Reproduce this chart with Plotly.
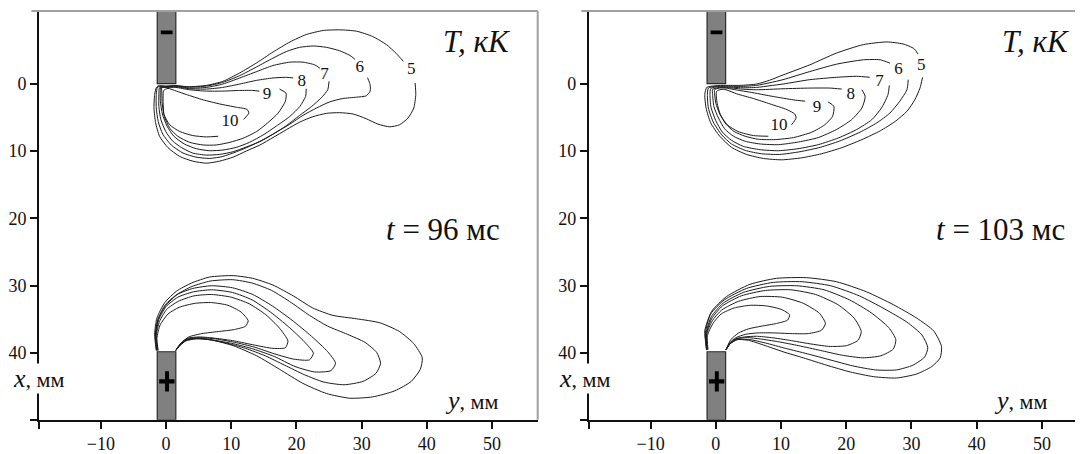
import plotly.graph_objects as go

# ---------------- axes / ticks ----------------
Y_RANGE_LEFT = [-19.5, 57.0]      # horizontal axis (y, mm) of the left panel
Y_RANGE_RIGHT = [-19.5, 56.3]     # horizontal axis (y, mm) of the right panel
X_RANGE = [49.9, -10.8]           # vertical axis (x, mm), reversed
y_ticks = [-10, 0, 10, 20, 30, 40, 50]
x_ticks = [0, 10, 20, 30, 40]
levels = [5, 6, 7, 8, 9, 10]
time_labels = ["96", "103"]

# electrodes (mm)
electrode_y = [-1.35, 1.5]
cathode_x = [-10.8, 0.0]
anode_x = [39.8, 49.9]

# ---------------- contour lines (y, x) in mm ----------------
# t = 96 ms, cathode side
top96_T5 = [(38.2,-0.1),(38.3,1.6),(38.0,3.6),(37.1,5.1),(35.8,6.1),(34.3,6.4),(32.5,6.0),(30.7,5.2),(28.7,4.5),(26.6,4.3),(24.6,4.4),(22.5,4.9),(20.5,5.7),(18.5,6.8),(16.4,8.0),(14.4,9.1),(12.3,10.0),(10.3,10.9),(8.2,11.5),(6.2,11.8),(4.1,11.5),(2.1,10.8),(0.3,9.5),(-1.0,7.8),(-1.6,5.8),(-1.85,3.6),(-1.75,1.6),(-1.5,0.6),(-1.2,0.3),(0,0.35),(1.5,0.3),(3.6,0.45),(6.2,0.25),(8.7,-0.35),(11.3,-1.6),(13.9,-3.1),(16.4,-4.7),(19.0,-6.2),(21.5,-7.3),(24.1,-7.9),(26.6,-8.0),(29.2,-7.8),(31.7,-7.0),(33.8,-5.8),(35.3,-4.5),(36.4,-3.3)]
top96_T6 = [(30.9,-0.9),(31.3,0.15),(31.3,1.1),(30.7,1.8),(29.2,2.0),(27.1,2.2),(25.1,2.7),(23.1,3.6),(21.0,4.7),(19.0,6.0),(16.9,7.2),(14.9,8.3),(12.8,9.3),(10.8,10.1),(8.7,10.8),(6.7,11.1),(4.6,10.9),(2.6,10.3),(0.8,9.1),(-0.5,7.5),(-1.2,5.6),(-1.5,3.6),(-1.5,1.6),(-1.3,0.5),(0,0.4),(1.5,0.3),(3.6,0.5),(6.2,0.35),(8.7,-0.2),(11.3,-1.2),(13.9,-2.5),(16.4,-3.8),(18.5,-4.8),(20.5,-5.4),(22.6,-5.6),(24.6,-5.4),(26.6,-4.9),(28.2,-4.2),(29.0,-3.6)]
top96_T7 = [(25.0,-0.35),(24.8,0.9),(23.8,2.1),(22.3,3.4),(20.5,4.7),(18.5,6.2),(16.4,7.5),(14.4,8.6),(12.3,9.4),(10.3,10.1),(8.2,10.5),(6.2,10.6),(4.1,10.3),(2.4,9.5),(1.0,8.5),(-0.05,7.1),(-0.8,5.3),(-1.1,3.4),(-1.1,1.6),(-1.0,0.6),(0,0.45),(1.5,0.35),(3.6,0.65),(6.2,0.55),(8.7,0.05),(11.3,-0.85),(13.9,-1.8),(16.4,-2.7),(19.0,-3.2),(21.0,-3.2),(22.8,-2.8),(23.6,-2.3)]
top96_T8 = [(21.5,0.75),(21.4,1.9),(20.5,3.4),(19.0,4.85),(16.9,6.3),(14.9,7.6),(12.8,8.7),(10.8,9.45),(8.7,9.85),(6.7,9.95),(4.65,9.65),(2.8,8.95),(1.2,7.8),(0.15,6.3),(-0.56,4.5),(-0.87,2.6),(-0.87,1.0),(-0.8,0.55),(0,0.5),(1.5,0.45),(3.6,0.75),(6.2,0.8),(8.7,0.55),(11.3,0.05),(13.9,-0.5),(16.4,-0.85),(18.5,-0.95),(19.5,-0.85)]
top96_T9 = [(17.4,0.8),(18.4,1.4),(18.3,2.6),(17.2,4.35),(15.6,5.8),(13.9,7.1),(11.8,8.1),(9.8,8.7),(7.7,9.1),(5.7,9.1),(3.6,8.7),(1.8,7.8),(0.56,6.6),(-0.26,4.85),(-0.6,2.9),(-0.66,1.1),(-0.66,0.55),(0,0.55),(1.5,0.55),(3.6,0.9),(6.2,1.1),(8.7,1.1),(11.3,1.0),(13.3,1.0),(14.3,1.1)]
top96_T10 = [(8.0,7.8),(6.2,7.9),(4.1,7.7),(2.1,7.1),(0.56,6.1),(-0.3,4.6),(-0.45,2.6),(-0.35,1.0),(0.3,0.7),(1.6,1.1),(3.1,1.6),(5.7,2.4),(8.2,3.0),(10.8,3.5),(12.4,3.8),(12.7,4.35),(11.9,5.3)]
top96_labels = [(37.6,-2.1),(29.7,-2.3),(24.3,-1.3),(20.8,-0.25),(15.5,1.6),(9.8,5.7)]

# t = 96 ms, anode side
bot96_T5 = [(-1.5,39.6),(-1.75,37.2),(-1.4,34.8),(-0.2,32.5),(1.6,30.8),(3.9,29.6),(6.7,28.7),(10.3,28.5),(13.3,28.9),(16.4,29.9),(19.5,31.5),(22.5,33.3),(25.6,34.4),(29.2,34.9),(32.8,35.5),(35.8,36.8),(38.0,38.6),(39.3,40.7),(39.0,42.4),(37.6,44.2),(35.1,45.6),(31.7,46.5),(28.2,46.7),(24.6,46.0),(21.0,44.5),(17.4,42.4),(13.9,40.4),(10.3,38.9),(7.2,38.1),(4.7,37.8),(3.0,38.1),(2.0,39.0),(1.5,39.6)]
bot96_T6 = [(-1.45,39.6),(-1.65,37.2),(-1.25,35.0),(-0.1,33.0),(1.7,31.3),(4.0,30.1),(6.8,29.3),(10.2,29.1),(13.2,29.6),(16.2,30.7),(19.2,32.5),(22.0,34.4),(24.8,36.0),(27.8,37.2),(30.5,38.4),(32.3,39.9),(32.9,41.5),(32.2,43.0),(30.2,44.2),(27.3,44.7),(24.2,44.3),(21.2,43.2),(18.2,41.8),(15.2,40.4),(12.2,39.3),(9.2,38.5),(6.6,38.0),(4.6,37.9),(3.0,38.2),(2.0,38.9),(1.5,39.6)]
bot96_T7 = [(-1.4,39.6),(-1.6,37.2),(-1.2,34.9),(-0.1,32.8),(1.7,31.3),(4.1,30.4),(7.0,30.0),(10.2,30.3),(13.3,31.3),(16.3,33.0),(19.3,35.1),(22.3,37.5),(24.8,39.8),(26.0,41.5),(25.3,42.6),(22.8,42.8),(19.8,42.0),(16.6,40.5),(13.4,39.4),(10.3,38.6),(7.4,38.1),(5.0,37.8),(3.3,38.0),(2.2,38.8),(1.5,39.6)]
bot96_T8 = [(-1.35,39.6),(-1.55,37.3),(-1.1,35.0),(0.0,33.1),(1.8,31.7),(4.2,30.9),(7.0,30.6),(10.2,31.0),(13.2,32.1),(16.0,33.9),(18.8,36.1),(21.2,38.3),(22.6,40.0),(22.0,41.0),(19.6,40.9),(16.6,40.1),(13.5,39.1),(10.5,38.4),(7.6,37.9),(5.1,37.7),(3.3,37.9),(2.2,38.7),(1.5,39.6)]
bot96_T9 = [(-1.3,39.6),(-1.5,37.4),(-1.0,35.3),(0.1,33.5),(1.9,32.3),(4.3,31.5),(7.0,31.3),(10.0,31.7),(12.8,32.7),(15.3,34.3),(17.4,36.3),(18.7,38.2),(18.3,39.2),(16.4,39.3),(13.5,38.8),(10.5,38.2),(7.6,37.8),(5.1,37.6),(3.3,37.8),(2.2,38.6),(1.5,39.6)]
bot96_T10 = [(-1.2,39.6),(-1.4,37.8),(-0.9,35.8),(0.3,34.2),(2.0,33.2),(4.5,32.6),(7.0,32.5),(9.5,32.9),(11.5,33.9),(12.6,35.2),(12.2,36.0),(10.5,36.5),(8.0,36.8),(5.5,37.1),(3.5,37.6),(2.3,38.5),(1.5,39.6)]

# t = 103 ms, cathode side
top103_T5 = [(31.7,-0.95),(31.3,0.65),(30.5,2.4),(29.3,4.1),(27.5,5.6),(25.2,7.0),(22.4,8.3),(19.3,9.5),(16.2,10.4),(13.2,11.0),(10.1,11.3),(7.3,11.1),(4.7,10.5),(2.4,9.45),(0.6,7.8),(-0.8,5.8),(-1.5,3.6),(-1.7,1.6),(-1.4,0.55),(0,0.3),(1.45,0.25),(3.7,0.25),(6.25,0.05),(8.2,-0.5),(10.3,-1.3),(14.4,-2.8),(18.5,-4.55),(22.6,-5.8),(26.2,-6.2),(28.7,-5.9),(30.4,-5.2),(31.0,-4.4)]
top103_T6 = [(29.5,-0.6),(29.3,0.9),(28.2,2.6),(26.7,4.35),(24.7,5.8),(22.1,7.2),(19.0,8.5),(16.0,9.45),(12.9,10.1),(9.8,10.5),(7.0,10.4),(4.5,9.9),(2.4,8.95),(0.9,7.6),(-0.4,5.7),(-1.15,3.6),(-1.3,1.6),(-1.15,0.65),(0,0.4),(1.45,0.35),(4.0,0.4),(6.25,0.25),(8.3,-0.15),(10.3,-0.6),(14.4,-1.8),(18.5,-2.9),(22.6,-3.55),(25.2,-3.55),(26.7,-3.05)]
top103_T7 = [(26.6,0.25),(26.4,1.6),(25.4,3.6),(23.9,5.35),(21.6,6.8),(18.8,8.05),(15.7,9.05),(12.6,9.65),(9.6,9.95),(6.8,9.8),(4.2,9.3),(2.4,8.4),(1.0,7.2),(0.0,5.5),(-0.75,3.5),(-0.9,1.6),(-0.8,0.75),(0,0.5),(1.45,0.45),(4.0,0.6),(6.25,0.55),(8.3,0.3),(10.3,0.05),(14.4,-0.6),(18.5,-0.95),(21.6,-1.1),(23.6,-0.95)]
top103_T8 = [(22.4,0.9),(22.9,1.9),(22.4,3.6),(20.8,5.35),(18.5,6.8),(15.7,8.0),(12.7,8.65),(9.6,9.05),(6.8,8.95),(4.5,8.55),(2.7,7.8),(1.35,6.7),(0.4,5.1),(-0.3,3.4),(-0.5,1.6),(-0.5,0.85),(0.3,0.6),(1.45,0.55),(4.0,0.8),(6.25,0.9),(10.3,0.75),(14.4,0.65),(17.5,0.65),(19.3,0.8)]
top103_T9 = [(17.2,2.7),(18.1,3.35),(17.9,4.85),(16.7,6.1),(14.7,7.2),(11.9,8.0),(9.1,8.3),(6.5,8.25),(4.5,7.8),(2.8,7.1),(1.55,6.0),(0.6,4.5),(0.0,2.9),(-0.2,1.4),(-0.2,0.9),(0.5,0.65),(1.45,0.65),(3.3,0.95),(5.2,1.25),(8.8,1.9),(11.9,2.4),(13.7,2.6)]
top103_T10 = [(8.05,7.8),(5.75,7.7),(3.4,7.1),(1.75,6.1),(0.7,4.6),(0.2,2.9),(0.1,1.15),(0.8,0.85),(1.55,0.9),(3.2,1.5),(5.75,2.2),(8.3,3.0),(10.9,3.85),(12.1,4.5),(12.3,5.1),(11.6,6.1)]
top103_labels = [(31.5,-2.6),(28.0,-2.1),(25.1,-0.35),(20.7,1.6),(15.5,3.5),(9.7,6.3)]

# t = 103 ms, anode side
bot103_T5 = [(-1.4,39.5),(-1.7,36.7),(-0.65,33.8),(1.65,31.6),(5.2,29.8),(9.3,28.9),(13.9,28.8),(18.5,29.4),(23.1,30.9),(27.2,32.8),(30.8,34.8),(33.4,36.7),(34.6,39.0),(34.4,40.7),(33.1,42.0),(30.8,43.1),(27.7,43.7),(24.2,43.5),(20.6,42.8),(17.0,41.8),(13.4,40.7),(10.3,39.8),(7.3,38.8),(5.0,38.1),(3.2,38.0),(2.2,38.6),(1.55,39.5)]
bot103_T6 = [(-1.45,39.5),(-1.6,36.9),(-0.8,34.2),(1.3,32.1),(4.7,30.4),(8.8,29.5),(13.2,29.4),(17.6,30.0),(22.0,31.5),(25.8,33.4),(29.3,35.4),(31.6,37.3),(32.5,39.2),(32.0,40.6),(30.2,41.8),(27.7,42.5),(24.5,42.5),(21.0,41.9),(17.5,41.0),(14.0,40.1),(10.7,39.3),(7.6,38.5),(5.2,38.0),(3.3,38.0),(2.2,38.6),(1.55,39.5)]
bot103_T7 = [(-1.4,39.5),(-1.5,37.0),(-0.7,34.6),(1.1,32.6),(4.2,31.0),(8.2,30.1),(12.4,30.0),(16.6,30.6),(20.5,32.1),(23.8,34.0),(26.5,36.2),(27.6,38.0),(27.2,39.4),(25.3,40.4),(22.5,40.7),(19.3,40.3),(16.0,39.6),(12.7,38.9),(9.5,38.3),(6.8,37.9),(4.8,37.7),(3.2,37.9),(2.2,38.6),(1.55,39.5)]
bot103_T8 = [(-1.35,39.5),(-1.45,37.1),(-0.65,34.9),(1.0,33.0),(3.9,31.5),(7.6,30.7),(11.5,30.6),(15.3,31.3),(18.7,32.8),(21.2,34.8),(22.3,36.8),(21.8,38.1),(20.0,38.9),(17.3,39.0),(14.3,38.6),(11.3,38.1),(8.5,37.7),(6.2,37.5),(4.4,37.6),(3.0,37.9),(2.1,38.6),(1.55,39.5)]
bot103_T9 = [(-1.3,39.5),(-1.4,37.2),(-0.55,35.2),(0.9,33.6),(3.5,32.3),(6.8,31.6),(10.2,31.7),(13.4,32.6),(15.9,34.1),(16.8,35.6),(16.2,36.6),(14.2,37.1),(11.5,37.1),(8.8,37.0),(6.5,37.0),(4.6,37.2),(3.1,37.7),(2.1,38.5),(1.55,39.5)]
bot103_T10 = [(-1.2,39.5),(-1.3,37.4),(-0.45,35.6),(0.8,34.2),(2.8,33.3),(5.3,32.9),(7.8,33.0),(10.0,33.5),(11.3,34.3),(11.0,35.1),(9.3,35.6),(7.0,36.0),(5.0,36.4),(3.5,37.0),(2.3,38.0),(1.55,39.5)]

panels = [
    dict(xa="x", ya="y", tops=[top96_T5, top96_T6, top96_T7, top96_T8, top96_T9, top96_T10],
         bots=[bot96_T5, bot96_T6, bot96_T7, bot96_T8, bot96_T9, bot96_T10], labels=top96_labels),
    dict(xa="x2", ya="y2", tops=[top103_T5, top103_T6, top103_T7, top103_T8, top103_T9, top103_T10],
         bots=[bot103_T5, bot103_T6, bot103_T7, bot103_T8, bot103_T9, bot103_T10], labels=top103_labels),
]

SERIF = "Liberation Serif, Times New Roman, serif"
LINE = "#1c1c1c"

# page offset (body margin) compensation
OFF = 8
W, H = 1083 - OFF, 454 - OFF
def px(p):
    return (p - OFF) / W
def py(p):
    return (454 - p) / H

fig = go.Figure()
for p in panels:
    for curve in p["tops"] + p["bots"]:
        fig.add_trace(go.Scatter(
            x=[c[0] for c in curve], y=[c[1] for c in curve],
            mode="lines", line=dict(color=LINE, width=1, shape="spline", smoothing=0.6),
            xaxis=p["xa"], yaxis=p["ya"], hoverinfo="skip", showlegend=False))
    fig.add_trace(go.Scatter(
        x=[l[0] for l in p["labels"]], y=[l[1] for l in p["labels"]],
        mode="text", text=[str(v) for v in levels],
        textfont=dict(family=SERIF, size=17, color="#111"),
        xaxis=p["xa"], yaxis=p["ya"], hoverinfo="skip", showlegend=False))

shapes = []
for p in panels:
    xa, ya = p["xa"], p["ya"]
    for xr in (cathode_x, anode_x):
        shapes.append(dict(type="rect", xref=xa, yref=ya, x0=electrode_y[0], x1=electrode_y[1],
                           y0=xr[0], y1=xr[1], fillcolor="#808080",
                           line=dict(color="#2a2a2a", width=1.2), layer="above"))
    # minus sign on cathode
    shapes.append(dict(type="rect", xref=xa, yref=ya, x0=-0.8, x1=1.0, y0=-7.9, y1=-7.35,
                       fillcolor="#000", line=dict(width=0), layer="above"))
    # plus sign on anode
    shapes.append(dict(type="rect", xref=xa, yref=ya, x0=-1.05, x1=1.3, y0=43.9, y1=44.5,
                       fillcolor="#000", line=dict(width=0), layer="above"))
    shapes.append(dict(type="rect", xref=xa, yref=ya, x0=-0.15, x1=0.45, y0=42.7, y1=45.7,
                       fillcolor="#000", line=dict(width=0), layer="above"))
    # grey top frame
    shapes.append(dict(type="line", xref=xa + " domain", yref=ya + " domain", x0=-0.015, x1=1, y0=1, y1=1,
                       line=dict(color="#a0a0a0", width=2)))
# grey right frame of left panel
shapes.append(dict(type="line", xref="x domain", yref="y domain", x0=1, x1=1, y0=0, y1=1,
                   line=dict(color="#a0a0a0", width=2)))

annotations = []
T_right = [513, 1072]
t_right = [502, 1067]
xlab_left = [12, 558]
ylab_left = [443, 992]
for i in range(2):
    annotations.append(dict(xref="paper", yref="paper", x=px(T_right[i]), y=py(42),
                            xanchor="right", yanchor="middle", showarrow=False,
                            text="<i>T, кК</i>", font=dict(family=SERIF, size=31, color="#111")))
    annotations.append(dict(xref="paper", yref="paper", x=px(t_right[i]), y=py(231),
                            xanchor="right", yanchor="middle", showarrow=False,
                            text="<i>t</i> = " + time_labels[i] + " мс",
                            font=dict(family=SERIF, size=31, color="#111")))
    annotations.append(dict(xref="paper", yref="paper", x=px(xlab_left[i]), y=py(382),
                            xanchor="left", yanchor="middle", showarrow=False,
                            bgcolor="white", borderpad=0,
                            text="<i><span style='font-size:26px'>x</span></i><span style='font-size:22px'>, мм</span>",
                            font=dict(family=SERIF, size=22, color="#111")))
    annotations.append(dict(xref="paper", yref="paper", x=px(ylab_left[i]), y=py(404),
                            xanchor="left", yanchor="middle", showarrow=False,
                            text="<i><span style='font-size:26px'>y</span></i><span style='font-size:22px'>, мм</span>",
                            font=dict(family=SERIF, size=22, color="#111")))

axis_common = dict(showgrid=False, zeroline=False, showline=True, linecolor="#111", linewidth=1.5,
                   ticks="outside", ticklen=7, tickwidth=1.5, tickcolor="#111",
                   tickfont=dict(family=SERIF, size=18, color="#111"), mirror=False)

def xaxis_cfg(domain, rng, anchor):
    return dict(axis_common, domain=domain, range=rng, anchor=anchor,
                tickmode="array", tickvals=[rng[0]] + y_ticks,
                ticktext=[""] + ["−10" if v == -10 else str(v) for v in y_ticks])

def yaxis_cfg(anchor):
    return dict(axis_common, domain=[py(423.5), py(11)], range=X_RANGE, anchor=anchor,
                tickmode="array", tickvals=x_ticks + [X_RANGE[0]],
                ticktext=[str(v) for v in x_ticks] + [""])

fig.update_layout(
    width=W, height=H,
    margin=dict(l=0, r=0, t=0, b=0),
    paper_bgcolor="white", plot_bgcolor="white",
    xaxis=xaxis_cfg([px(38.9), px(537.7)], Y_RANGE_LEFT, "y"),
    yaxis=yaxis_cfg("x"),
    xaxis2=xaxis_cfg([px(588.7), 1.0], Y_RANGE_RIGHT, "y2"),
    yaxis2=yaxis_cfg("x2"),
    shapes=shapes, annotations=annotations,
)

fig.write_html("out.html")
